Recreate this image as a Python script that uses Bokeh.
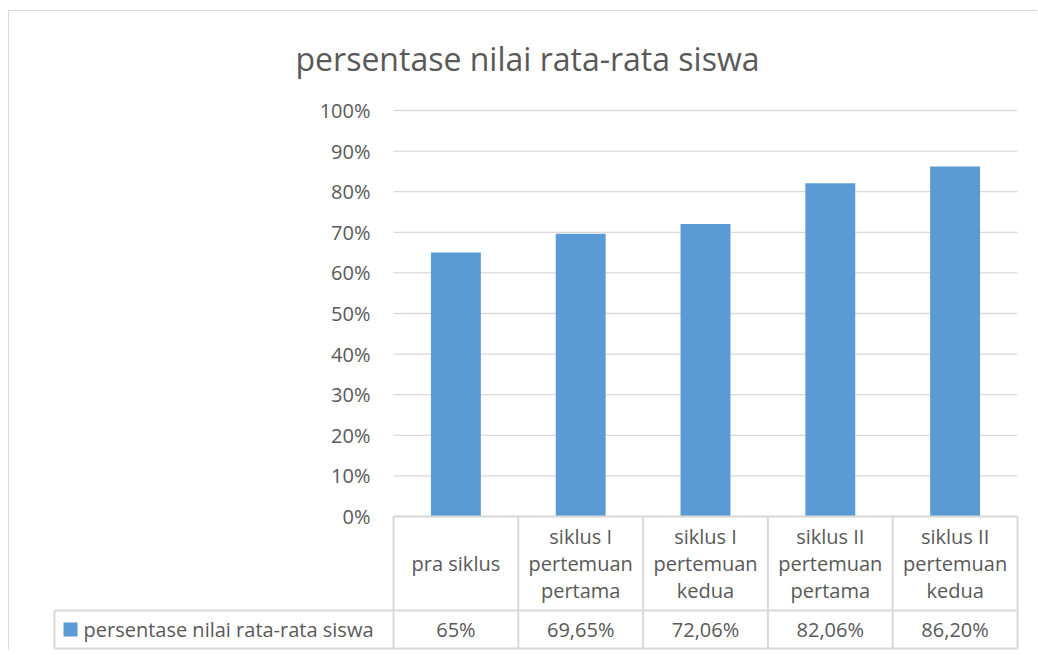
from bokeh.plotting import figure
from bokeh.models import ColumnDataSource, Title
from bokeh.core.properties import value
from bokeh.embed import file_html
from bokeh.resources import INLINE

# ---------------- data ----------------
categories = [
    "pra siklus",
    "siklus I\npertemuan\npertama",
    "siklus I\npertemuan\nkedua",
    "siklus II\npertemuan\npertama",
    "siklus II\npertemuan\nkedua",
]
values = [0.65, 0.6965, 0.7206, 0.8206, 0.862]
value_labels = ["65%", "69,65%", "72,06%", "82,06%", "86,20%"]
series_name = "persentase nilai rata-rata siswa"
title_text = "persentase nilai rata-rata siswa"
y_ticks = [0.0, 0.1, 0.2, 0.3, 0.4, 0.5, 0.6, 0.7, 0.8, 0.9, 1.0]
y_tick_labels = ["0%", "10%", "20%", "30%", "40%", "50%", "60%", "70%", "80%", "90%", "100%"]

# ---------------- layout constants (pixels) ----------------
PX_Y = 406.0      # pixels per 1.0 on y
PX_X = 124.8      # pixels per category
HEADER_H = 94.0   # header row height (px)
ROW_H = 38.0      # value row height (px)
LEGEND_W = 339.0  # legend cell width (px)
PAD_L, PAD_R, PAD_T, PAD_B = 2.0, 3.0, 12.0, 2.0

TXT = "#595959"
GRID = "#d9d9d9"
BAR = "#5b9bd5"
FONT = "Open Sans"

n = len(categories)
y_bottom = -(HEADER_H + ROW_H) / PX_Y
y_row = -HEADER_H / PX_Y
x_leg = -LEGEND_W / PX_X

p = figure(
    width=1029, height=640,
    x_range=(x_leg - PAD_L / PX_X, n + PAD_R / PX_X),
    y_range=(y_bottom - PAD_B / PX_Y, 1.0 + PAD_T / PX_Y),
    x_axis_type=None, y_axis_type=None,
    output_backend="svg", toolbar_location=None,
    min_border_left=43, min_border_right=18,
    min_border_top=87, min_border_bottom=1,
)
p.margin = (10, 0, 0, 8)
p.styles = {"border-top": "1px solid #d9d9d9", "border-left": "1px solid #d9d9d9"}
p.outline_line_color = None
p.grid.visible = False
p.title = Title(text=title_text, align="left", text_font=FONT,
                text_font_size="32px", text_font_style="normal",
                text_color=TXT, standoff=38, offset=243)

# gridlines
p.segment(x0=[0] * len(y_ticks), x1=[n] * len(y_ticks), y0=y_ticks, y1=y_ticks,
          line_color=GRID, line_width=1.3)

# y tick labels
p.text(x=[-23 / PX_X] * len(y_ticks), y=y_ticks, text=y_tick_labels,
       text_font=value(FONT), text_font_size="20px", text_color=TXT,
       text_align="right", text_baseline="middle")

# bars
xs = [i + 0.5 for i in range(n)]
src = ColumnDataSource(dict(x=xs, top=values, cat=categories, lab=value_labels))
p.vbar(x="x", top="top", bottom=0, width=0.4, source=src, fill_color=BAR, line_color=None)

# data table lines
vx = list(range(n + 1))
p.segment(x0=vx, x1=vx, y0=[0] * len(vx), y1=[y_bottom] * len(vx), line_color=GRID, line_width=2)
p.segment(x0=[x_leg], x1=[x_leg], y0=[y_row], y1=[y_bottom], line_color=GRID, line_width=2)
p.segment(x0=[0, x_leg, x_leg], x1=[n, n, n], y0=[0, y_row, y_bottom], y1=[0, y_row, y_bottom],
          line_color=GRID, line_width=2)

# header (category) labels
p.text(x="x", y=y_row / 2, text="cat", source=src,
       text_font=value(FONT), text_font_size="20px", text_color=TXT,
       text_align="center", text_baseline="middle", text_line_height=1.0)

# value labels
y_val = (y_row + y_bottom) / 2
p.text(x="x", y=y_val, text="lab", source=src,
       text_font=value(FONT), text_font_size="20px", text_color=TXT,
       text_align="center", text_baseline="middle")

# legend key + name
p.scatter(x=[x_leg + 16 / PX_X], y=[y_val], marker="square", size=14,
          fill_color=BAR, line_color=None)
p.text(x=[x_leg + 29 / PX_X], y=[y_val], text=[series_name],
       text_font=value(FONT), text_font_size="20px", text_color=TXT,
       text_align="left", text_baseline="middle")

open("out.html", "w").write(file_html(p, INLINE))
